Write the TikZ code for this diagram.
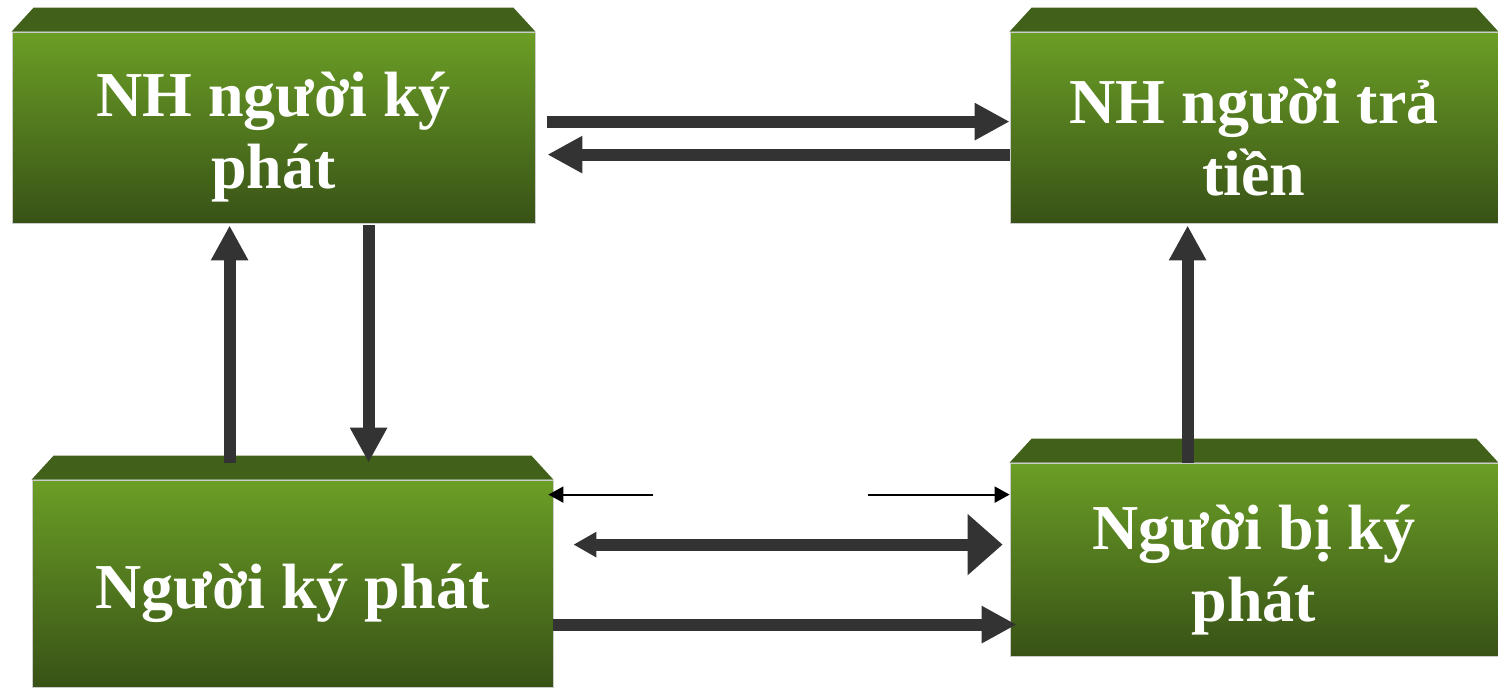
\documentclass[tikz,border=0pt]{standalone}
\usepackage{fontspec}
\setmainfont{Liberation Serif}
\usetikzlibrary{arrows.meta,calc}
\definecolor{gtop}{HTML}{6B9E26}
\definecolor{gmid}{HTML}{5A8A21}
\definecolor{gbot}{HTML}{385216}
\definecolor{gcap}{HTML}{41611A}
\definecolor{arrowgray}{HTML}{333333}
\tikzset{
  face/.style={rectangle, inner sep=0pt, top color=gtop, middle color=gmid,
    bottom color=gbot, draw=gray!40, line width=0.4pt},
  boxtext/.style={inner sep=0pt, text=white, align=center,
    font=\bfseries\fontsize{32}{36}\selectfont},
  topface/.style={fill=gcap},
  bigarrow/.style={draw=arrowgray, line width=6pt,
    -{Triangle[length=17.5pt,width=17.5pt,fill=arrowgray]}},
  thinarrow/.style={draw=black, line width=1pt,
    -{Triangle[length=7.5pt,width=8pt]}}
}
\begin{document}
\begin{tikzpicture}[x=0.5pt,y=-0.5pt]
\useasboundingbox (0,0) rectangle (1498,687);

% front faces of the four blocks
\node[face, minimum width=261.5pt, minimum height=95.5pt] (A) at (273.5,127.5) {};
\node[face, minimum width=244pt, minimum height=95.5pt] (B) at (1254,127.5) {};
\node[face, minimum width=260.5pt, minimum height=103.5pt] (C) at (292.5,583.5) {};
\node[face, minimum width=244pt, minimum height=96.5pt] (D) at (1254,559.5) {};

% captions
\node[boxtext] (At) at ([yshift=-5pt]A.center) {NH người ký\\phát};
\node[boxtext] (Bt) at ([yshift=-5pt]B.center) {NH người trả\\tiền};
\node[boxtext] (Ct) at ([yshift=-5pt]C.center) {Người ký phát};
\node[boxtext] (Dt) at ([yshift=-5.5pt]D.center) {Người bị ký\\phát};

% bevelled top faces
\foreach \n in {A,B,C,D}{
  \fill[topface] (\n.north west) -- ++(22,-24) -- ($(\n.north east)+(-22,-24)$) -- (\n.north east) -- cycle;
}

% horizontal connectors between the banks
\draw[bigarrow] ($(A.north east)+(12,90)$) -- ($(B.north west)+(0,90)$);
\draw[bigarrow] ($(B.north west)+(0,123)$) -- ($(A.north east)+(12,123)$);

% vertical connectors
\draw[bigarrow] ($(C.north west)+(198,-17)$) -- ($(A.south west)+(218,2)$);
\draw[bigarrow] ($(A.south west)+(357,2)$) -- ($(C.north west)+(337,-17)$);
\draw[bigarrow] ($(D.north west)+(178,0)$) -- ($(B.south west)+(178,2)$);

% thin arrows
\coordinate (tl) at ($(C.north east)+(100,15)$);
\coordinate (tr) at ($(D.north west)+(-142,32)$);
\draw[thinarrow] (tl) -- ($(C.north east)+(-5,15)$);
\draw[thinarrow] (tr) -- ($(D.north west)+(0,32)$);

% two-way connector and lower connector
\draw[draw=arrowgray, line width=6pt,
  {Triangle[length=11.5pt,width=12pt,fill=arrowgray]}-{Triangle[length=17.5pt,width=29.5pt,fill=arrowgray]}]
  ($(C.north east)+(20,65)$) -- ($(D.north west)+(-7,82)$);
\draw[bigarrow] ($(C.north east)+(0,145)$) -- ($(D.north west)+(7,162)$);
\end{tikzpicture}
\end{document}
